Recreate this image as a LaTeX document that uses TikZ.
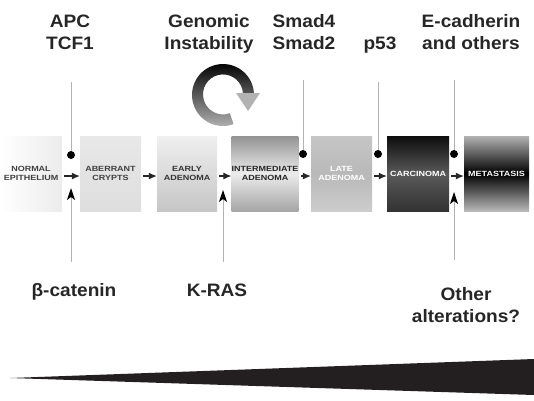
\documentclass[tikz,border=0pt]{standalone}
\usepackage{fontspec}
\setmainfont{Liberation Sans}
\newfontfamily\tagfont[FakeStretch=1.06]{Liberation Sans}
\newfontfamily\boxfont[FakeStretch=1.2]{Liberation Sans}
\usepackage{xcolor}
\usetikzlibrary{arrows.meta}
\definecolor{inkgray}{HTML}{231F20}

\begin{document}
\begin{tikzpicture}[x=1pt, y=-1pt]
        \tikzset{stage/.style={minimum height=75pt, inner sep=0pt, align=center, font=\boxfont\bfseries\fontsize{7.5}{9}\selectfont}}
        \tikzset{flowarrow/.style={draw=black!85, line width=1.1pt, shorten <=2pt, -{Latex[length=8pt, width=7pt]}}}
        \tikzset{lead/.style={draw=gray!60, line width=1pt}}
        \tikzset{hit/.style={draw=gray!60, line width=1pt, -{Stealth[color=black, length=12pt, width=8pt, inset=3pt]}}}
        \tikzset{locus/.style={circle, fill=black, inner sep=0pt, minimum size=8pt}}
        \tikzset{gene/.style={anchor=base, align=center, font=\tagfont\bfseries\fontsize{18}{22}\selectfont, text=black!85}}

        \useasboundingbox (0,0) rectangle (534,400);

        % stages of the sequence
        \node[stage, minimum width=62pt, left color=white, right color=gray!15, text=black!75] (normal) at (31,173.5) {NORMAL\\EPITHELIUM};
        \node[stage, minimum width=61pt, top color=gray!18, bottom color=gray!26, text=black!75] (aberrant) at (110.5,173.5) {ABERRANT\\CRYPTS};
        \node[stage, minimum width=60pt, top color=gray!12, bottom color=gray!45, text=black!80] (early) at (187,173.5) {EARLY\\ADENOMA};
        \node[stage, minimum width=64pt, top color=gray!85, bottom color=gray!70, middle color=gray!15, text=black!85] (inter) at (265,173.5) {INTERMEDIATE\\ADENOMA};
        \node[stage, minimum width=61pt, top color=gray!45, bottom color=gray!40, middle color=gray!55, text=white] (late) at (341.5,173.5) {LATE\\ADENOMA};
        \node[stage, minimum width=62pt, top color=black!95, bottom color=black!80, middle color=gray!70!black, text=white] (carc) at (418,173.5) {CARCINOMA};
        \node[stage, minimum width=65pt, top color=gray!60, bottom color=gray!55, middle color=black, text=white] (meta) at (496.5,173.5) {METASTASIS};

        \draw[flowarrow] ([yshift=-2.5pt]normal.east) -- ([yshift=-2.5pt]aberrant.west);
        \draw[flowarrow] ([yshift=-2.5pt]aberrant.east) -- ([yshift=-2.5pt]early.west);
        \draw[flowarrow] ([yshift=-2.5pt]early.east) -- ([yshift=-2.5pt]inter.west);
        \draw[flowarrow] ([yshift=-2.5pt]inter.east) -- ([yshift=-2.5pt]late.west);
        \draw[flowarrow] ([yshift=-2.5pt]late.east) -- ([yshift=-2.5pt]carc.west);
        \draw[flowarrow] ([yshift=-2.5pt]carc.east) -- ([yshift=-2.5pt]meta.west);

        % losses from above
        \coordinate (apctop) at (71,82);
        \coordinate (smadtop) at (303,80);
        \coordinate (p53top) at (378,82);
        \coordinate (ecadtop) at (454,80);
        \node[locus] (apcdot) at (71,155) {};
        \node[locus] (smaddot) at (303,154) {};
        \node[locus] (p53dot) at (378,154) {};
        \node[locus] (ecaddot) at (454,154) {};
        \draw[lead] (apctop) -- (apcdot);
        \draw[lead] (smadtop) -- (smaddot);
        \draw[lead] (p53top) -- (p53dot);
        \draw[lead] (ecadtop) -- (ecaddot);

        % activations from below
        \coordinate (catfoot) at (71,262);
        \coordinate (cathead) at (71,188);
        \coordinate (rasfoot) at (223,262);
        \coordinate (rashead) at (223,190);
        \coordinate (otherfoot) at (454,260);
        \coordinate (otherhead) at (454,192);
        \draw[hit] (catfoot) -- (cathead);
        \draw[hit] (rasfoot) -- (rashead);
        \draw[hit] (otherfoot) -- (otherhead);

        % base anchor sits on the last line
        \node[gene] (apc) at (70,49) {APC\\TCF1};
        \node[gene] (genomic) at (209,49) {Genomic\\Instability};
        \node[gene] (smad) at (304,49) {Smad4\\Smad2};
        \node[gene] (p53) at (380,49) {p53};
        \node[gene] (ecad) at (471,49) {E-cadherin\\and others};
        \node[gene] (catenin) at (74,296) {β-catenin};
        \node[gene] (kras) at (217,296) {K-RAS};
        \node[gene] (other) at (466,322) {Other\\alterations?};

        % instability loop
        \shade[top color=black, bottom color=gray!55] (223,95) ++(70:31) arc (70:357:31) -- ++(180:11) arc (357:70:20) -- cycle;
        \fill[gray!60] (236,93) -- (260,93) -- (248,111) -- cycle;

        % progression wedge
        \fill[inkgray] (10,378) -- (534,359) -- (534,395) -- cycle;

    \end{tikzpicture}
\end{document}
